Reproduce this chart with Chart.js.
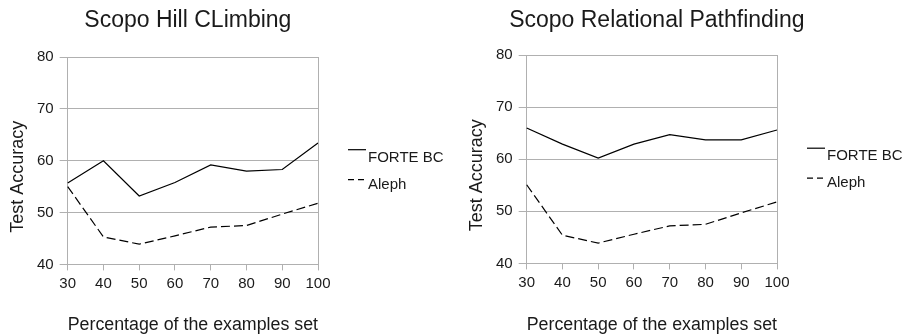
<!DOCTYPE html>
<html>
<head>
<meta charset="utf-8">
<script src="https://cdn.jsdelivr.net/npm/chart.js@4/dist/chart.umd.min.js"></script>
<style>
  body { margin: 0; background: #fff; }
  .panel { position: absolute; top: 0; width: 456px; height: 336px; }
  #left { left: 0; }
  #right { left: 456px; }
</style>
</head>
<body>
<div class="panel" id="left"><canvas id="hillChart"></canvas></div>
<div class="panel" id="right"><canvas id="pathChart"></canvas></div>
<script>
const percentages = ["30", "40", "50", "60", "70", "80", "90", "100"];
const yTicks = [40, 50, 60, 70, 80];

const hillForte = [55.7, 60.0, 53.2, 55.8, 59.2, 58.0, 58.3, 63.4];
const hillAleph = [55.0, 45.3, 43.9, 45.5, 47.2, 47.5, 49.7, 51.8];

const pathForte = [66.0, 62.9, 60.2, 62.9, 64.7, 63.7, 63.7, 65.6];
const pathAleph = [55.1, 45.4, 43.9, 45.6, 47.2, 47.5, 49.7, 51.8];

const FONT = "'Liberation Sans', Arial, sans-serif";
const GRID = "#b0b0b0";
const INK = "#1a1a1a";

// title, y title, right-hand frame line and legend are drawn by hand
const decor = {
  id: "decor",
  afterDraw(chart, args, opts) {
    const { ctx, chartArea: a } = chart;
    const mid = (a.top + a.bottom) / 2;
    ctx.save();
    ctx.strokeStyle = GRID;
    ctx.lineWidth = 1;
    ctx.beginPath();
    ctx.moveTo(Math.round(a.right) + 0.5, a.top);
    ctx.lineTo(Math.round(a.right) + 0.5, a.bottom);
    ctx.stroke();

    ctx.fillStyle = INK;
    ctx.textAlign = "center";
    ctx.textBaseline = "middle";
    ctx.font = "23px " + FONT;
    ctx.fillText(opts.title, (a.left + a.right) / 2 + opts.shift, 21);

    ctx.save();
    ctx.translate(a.left - 50, mid + 16);
    ctx.rotate(-Math.PI / 2);
    ctx.font = "18px " + FONT;
    ctx.fillText("Test Accuracy", 0, 0);
    ctx.restore();

    ctx.font = "15px " + FONT;
    ctx.textAlign = "left";
    chart.data.datasets.forEach((ds, i) => {
      const ty = mid - 3 + i * 27;
      const ly = ty - 8 + i * 3;
      ctx.strokeStyle = "#000";
      ctx.lineWidth = 1.2;
      ctx.setLineDash(ds.borderDash ? [6, 4] : []);
      ctx.beginPath();
      ctx.moveTo(a.right + 30, ly);
      ctx.lineTo(a.right + 48, ly);
      ctx.stroke();
      ctx.setLineDash([]);
      ctx.fillText(ds.label, a.right + 50, ty);
    });
    ctx.restore();
  }
};

function makeChart(id, title, forte, aleph, cfg) {
  return new Chart(document.getElementById(id), {
    type: "line",
    data: {
      labels: percentages,
      datasets: [
        { label: "FORTE BC", data: forte, borderColor: "#000", borderWidth: 1.2, pointRadius: 0, tension: 0 },
        { label: "Aleph", data: aleph, borderColor: "#000", borderWidth: 1.2, borderDash: [9, 4], pointRadius: 0, tension: 0 }
      ]
    },
    options: {
      responsive: true,
      maintainAspectRatio: false,
      animation: false,
      layout: { padding: cfg.pad },
      plugins: {
        legend: { display: false },
        tooltip: { enabled: false },
        decor: { title: title, shift: cfg.shift }
      },
      scales: {
        x: {
          offset: false,
          grid: { display: true, drawOnChartArea: false, color: GRID, tickLength: 6 },
          border: { color: GRID },
          ticks: { color: INK, font: { family: FONT, size: 15 }, padding: 4, maxRotation: 0 },
          title: { display: true, text: "Percentage of the examples set", color: INK, font: { family: FONT, size: 18 }, padding: { top: cfg.xTitleGap, bottom: 0 } }
        },
        y: {
          min: 40,
          max: 80,
          afterBuildTicks: axis => { axis.ticks = yTicks.map(v => ({ value: v })); },
          grid: { color: GRID, tickLength: 8 },
          border: { color: GRID },
          ticks: { color: INK, font: { family: FONT, size: 15 }, padding: 6 }
        }
      }
    },
    plugins: [decor]
  });
}

makeChart("hillChart", "Scopo Hill CLimbing", hillForte, hillAleph,
  { pad: { top: 57, right: 138, left: 31, bottom: 0 }, xTitleGap: 18, shift: -5 });
makeChart("pathChart", "Scopo Relational Pathfinding", pathForte, pathAleph,
  { pad: { top: 55, right: 135, left: 34, bottom: 0 }, xTitleGap: 19, shift: 5 });
</script>
</body>
</html>
